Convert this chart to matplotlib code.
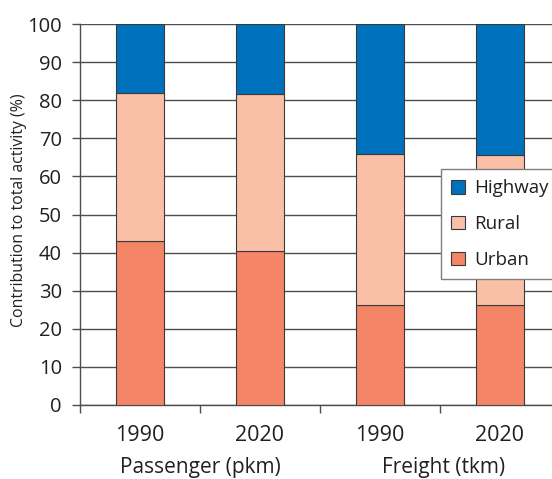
import matplotlib
matplotlib.use("Agg")
import matplotlib.pyplot as plt
import numpy as np

plt.rcParams['font.family'] = ['Open Sans', 'DejaVu Sans']

# --------------------------
# Data
# --------------------------
years = ["1990", "2020", "1990", "2020"]
groups = ["Passenger (pkm)", "Freight (tkm)"]
urban = [43.0, 40.5, 26.2, 26.2]
rural = [39.0, 41.0, 39.6, 39.3]
highway = [18.0, 18.5, 34.2, 34.5]

c_urban = "#F48566"
c_rural = "#FAC0A7"
c_highway = "#0071BD"
txt = "#231F20"
grid_c = "#4D4D4D"

fig = plt.figure(figsize=(5.52, 4.79), dpi=100)
ax = fig.add_axes([80 / 552, 1 - 405 / 479, 472 / 552, 381 / 479])

x = np.arange(len(years))
w = 0.40
edge = dict(edgecolor="#3A3A3A", linewidth=0.8, zorder=3)
b_u = ax.bar(x, urban, w, color=c_urban, label="Urban", **edge)
b_r = ax.bar(x, rural, w, bottom=urban, color=c_rural, label="Rural", **edge)
bot2 = [u + r for u, r in zip(urban, rural)]
b_h = ax.bar(x, highway, w, bottom=bot2, color=c_highway, label="Highway", **edge)

ax.set_xlim(-0.5, -0.5 + 472 / 120)
ax.set_ylim(0, 100)
ax.set_yticks(range(0, 101, 10))
ax.yaxis.grid(True, color=grid_c, linewidth=1.0, zorder=0)
ax.set_axisbelow(True)

# category boundary ticks on x, labels centred under bars
ax.set_xticks([-0.5, 0.5, 1.5, 2.5])
ax.set_xticklabels([])
for xi, yr in zip(x, years):
    ax.text(xi, -7.9, yr, ha="center", va="center", fontsize=15.5, color=txt,
            clip_on=False)
for gi, g in enumerate(groups):
    ax.text(2 * gi + 0.5 + gi * 0.03, -16.4, g, ha="center", va="center",
            fontsize=15, color=txt, clip_on=False)

ax.tick_params(axis="x", direction="out", length=6, width=1, color=grid_c)
ax.tick_params(axis="y", direction="out", length=6, width=1, color=grid_c,
               labelsize=14.5, labelcolor=txt, pad=7)

for s in ["top", "right"]:
    ax.spines[s].set_visible(False)
for s in ["left", "bottom"]:
    ax.spines[s].set_color(grid_c)
    ax.spines[s].set_linewidth(1.0)

ax.set_ylabel("Contribution to total activity (%)", fontsize=11.4, color=txt)
ax.yaxis.set_label_coords(-0.112, 0.512)

leg = fig.legend([b_h, b_r, b_u], ["Highway", "Rural", "Urban"],
                 loc="upper left", bbox_to_anchor=(441 / 552, 1 - 169 / 479),
                 fontsize=13.5, frameon=True, fancybox=False, borderaxespad=0,
                 handlelength=0.75, handleheight=0.75, labelspacing=0.95,
                 handletextpad=0.45, borderpad=0.55, framealpha=1)
leg.get_frame().set_edgecolor("#7F7F7F")
leg.get_frame().set_linewidth(1.0)
for t in leg.get_texts():
    t.set_color(txt)

fig.savefig("out.png", dpi=100)
